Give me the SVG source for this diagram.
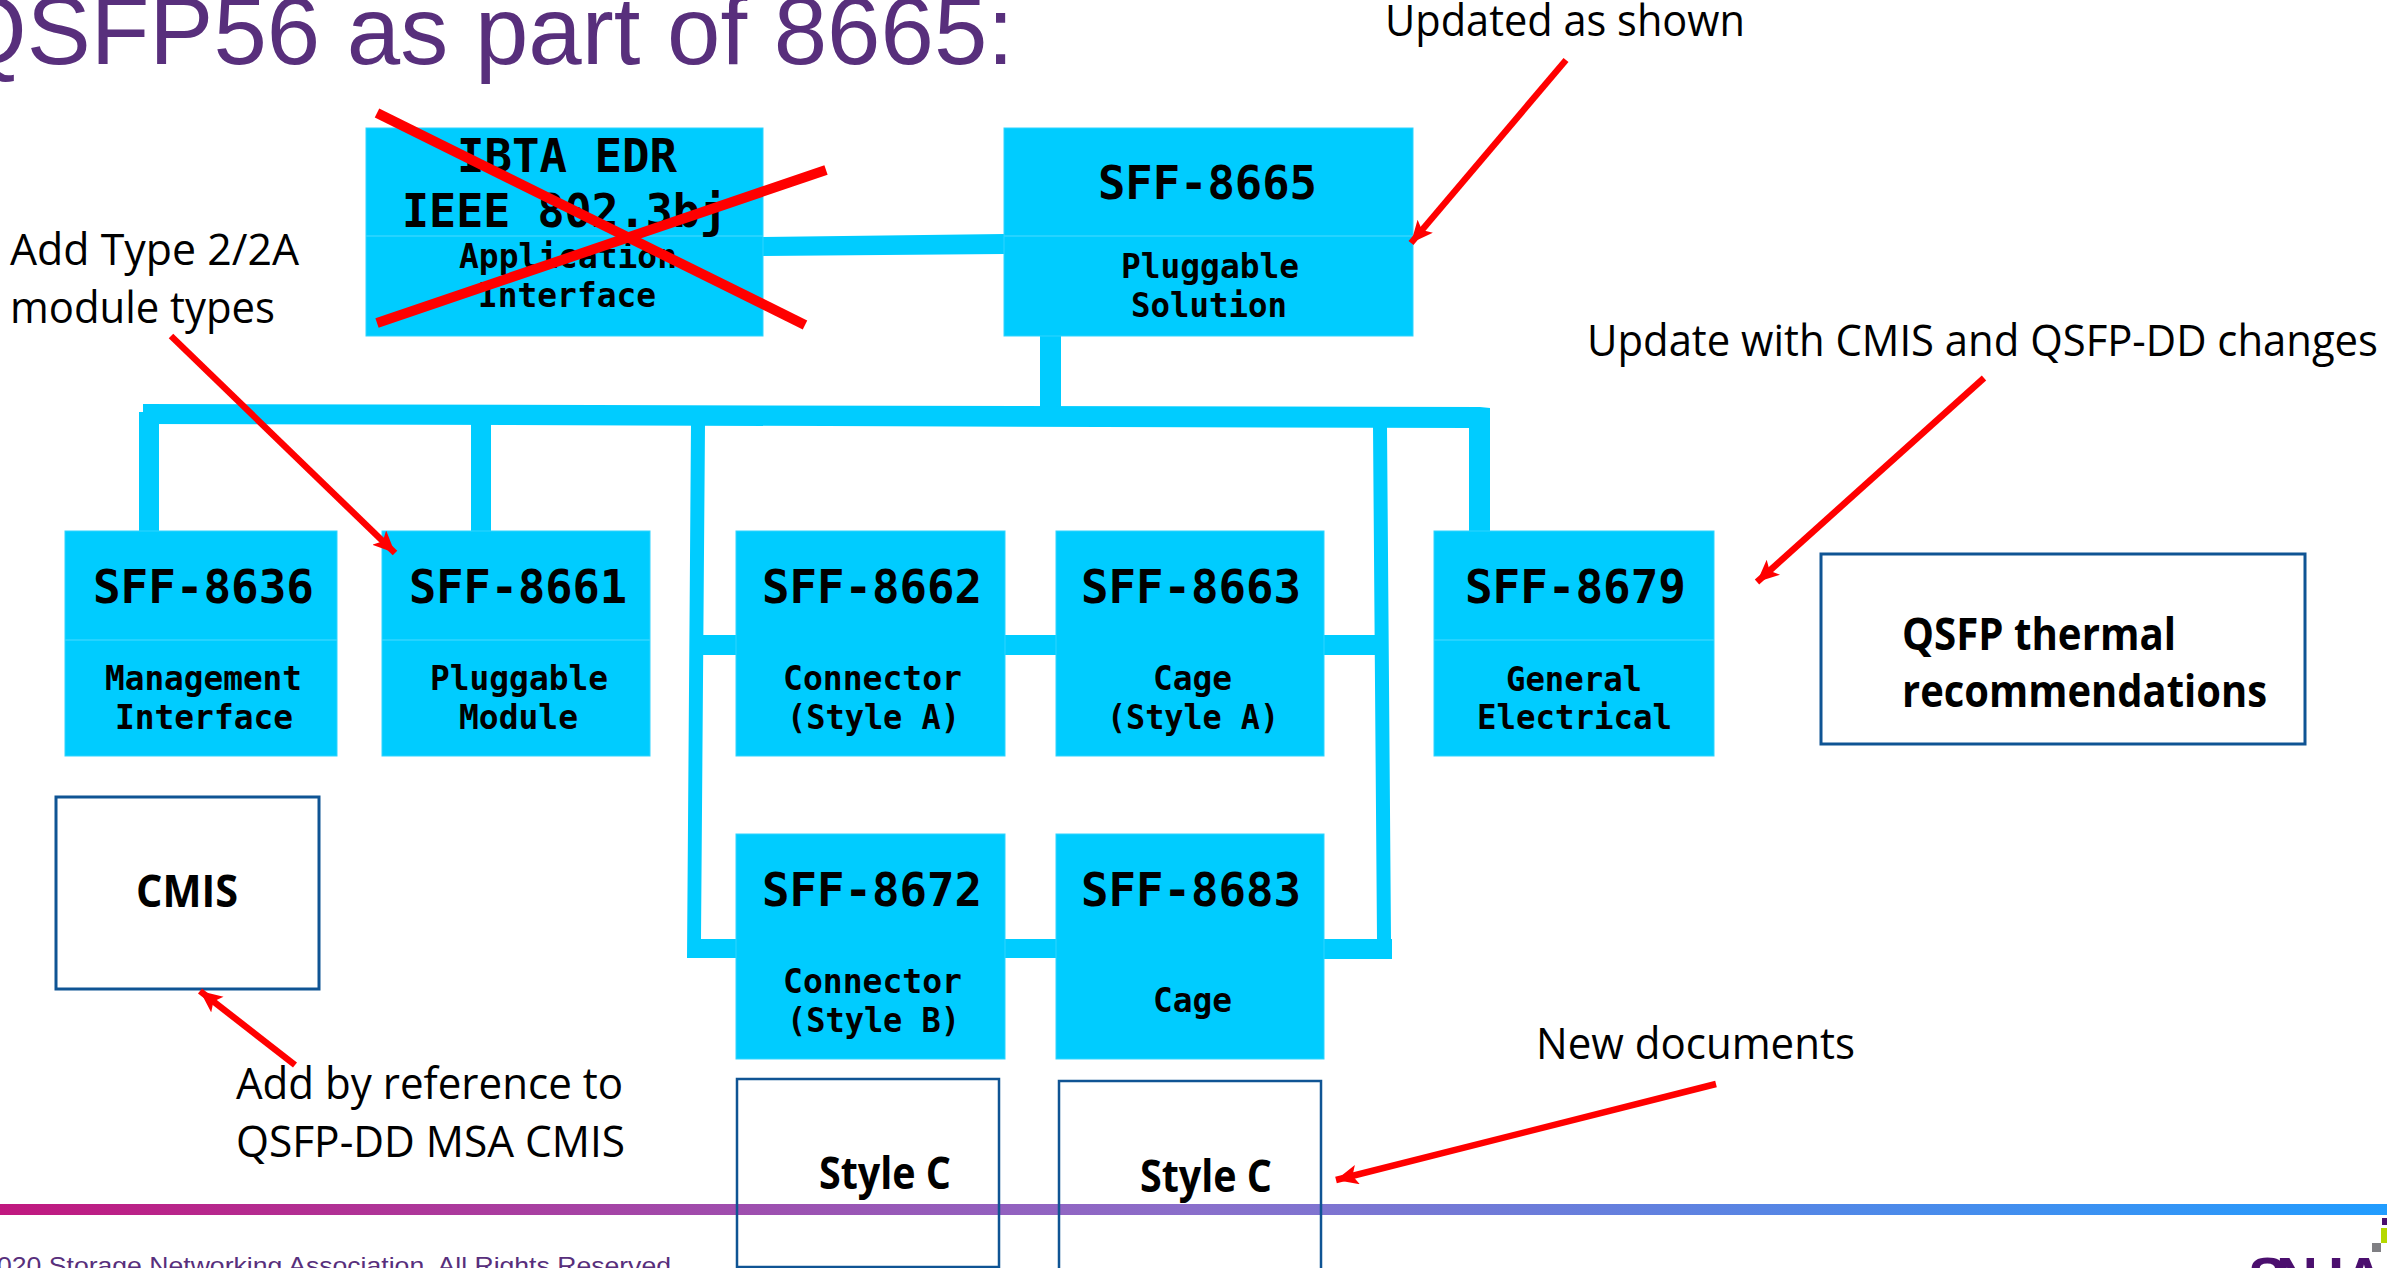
<svg xmlns="http://www.w3.org/2000/svg" width="2387" height="1268" viewBox="0 0 2387 1268">
<defs>
<linearGradient id="bar" x1="0" x2="1" y1="0" y2="0"><stop offset="0" stop-color="#c0187f"/><stop offset="0.5" stop-color="#8a6fcb"/><stop offset="1" stop-color="#219dff"/></linearGradient>
<marker id="ah" markerUnits="userSpaceOnUse" markerWidth="26" markerHeight="22" refX="22" refY="10" orient="auto"><path d="M0 0L22 10L0 20L5 10Z" fill="#ff0000"/></marker>
</defs>
<style>
text{fill:#000}
.b{fill:#00ccff;stroke:#2fd4ff;stroke-width:1}
.d{stroke:#33d6ff;stroke-width:1.5}
.o{fill:#fff;stroke:#0f5494;stroke-width:3}
.m{font-family:"DejaVu Sans Mono",monospace;font-weight:700;font-size:47px}
.s{font-family:"DejaVu Sans Mono",monospace;font-weight:700;font-size:33px}
.n{font-family:"Open Sans","Noto Sans",sans-serif;font-size:44px}
.k{font-family:"Open Sans","Noto Sans",sans-serif;font-size:44px;font-weight:700}
.a{stroke:#ff0000;stroke-width:6.5;fill:none;marker-end:url(#ah)}
.x{stroke:#ff0000;stroke-width:10;fill:none}
.c{fill:#00ccff}
</style>
<rect width="2387" height="1268" fill="#fff"/>
<text id="title" x="-48" y="64" font-family="Liberation Sans, Arial, sans-serif" font-size="96" style="fill:#582f7c">QSFP56 as part of 8665:</text>
<g id="connectors">
<path class="c" d="M763 237L1004 234L1004 254L763 256Z"/>
<path class="c" d="M1040 336H1061V407H1040Z"/>
<path class="c" d="M143 404L1480 407L1490 408V531H1469V428L139 424L139 412L143 412Z"/>
<path class="c" d="M139 420H159V531H139Z"/>
<path class="c" d="M471 420H491V531H471Z"/>
<path class="c" d="M691 424H705L701 939H736V958H687Z"/>
<path class="c" d="M1373 426H1387L1391 939H1392V959H1324V939H1377Z"/>
<path class="c" d="M700 635H1378V655H700Z"/>
<path class="c" d="M1000 939H1060V958H1000Z"/>
</g>
<g id="n-ibta"><rect class="b" x="366" y="128" width="397" height="208"/><line class="d" x1="366" y1="236" x2="763" y2="236"/>
<text class="m" x="457" y="172" textLength="220" lengthAdjust="spacingAndGlyphs">IBTA EDR</text><text class="m" x="402" y="227" textLength="325" lengthAdjust="spacingAndGlyphs">IEEE 802.3bj</text>
<text class="s" x="459" y="268" textLength="218" lengthAdjust="spacingAndGlyphs">Application</text><text class="s" x="478" y="307" textLength="178" lengthAdjust="spacingAndGlyphs">Interface</text></g>
<g id="n-8665"><rect class="b" x="1004" y="128" width="409" height="208"/><line class="d" x1="1004" y1="236" x2="1413" y2="236"/>
<text class="m" x="1098" y="199" textLength="219" lengthAdjust="spacingAndGlyphs">SFF-8665</text><text class="s" x="1121" y="278" textLength="178" lengthAdjust="spacingAndGlyphs">Pluggable</text><text class="s" x="1131" y="317" textLength="156" lengthAdjust="spacingAndGlyphs">Solution</text></g>
<g id="n-8636"><rect class="b" x="65" y="531" width="272" height="225"/><line class="d" x1="65" y1="640" x2="337" y2="640"/>
<text class="m" x="93" y="603" textLength="221" lengthAdjust="spacingAndGlyphs">SFF-8636</text><text class="s" x="105" y="690" textLength="197" lengthAdjust="spacingAndGlyphs">Management</text><text class="s" x="115" y="729" textLength="178" lengthAdjust="spacingAndGlyphs">Interface</text></g>
<g id="n-8661"><rect class="b" x="382" y="531" width="268" height="225"/><line class="d" x1="382" y1="640" x2="650" y2="640"/>
<text class="m" x="409" y="603" textLength="218" lengthAdjust="spacingAndGlyphs">SFF-8661</text><text class="s" x="430" y="690" textLength="178" lengthAdjust="spacingAndGlyphs">Pluggable</text><text class="s" x="459" y="729" textLength="119" lengthAdjust="spacingAndGlyphs">Module</text></g>
<g id="n-8662"><rect class="b" x="736" y="531" width="269" height="225"/>
<text class="m" x="762" y="603" textLength="220" lengthAdjust="spacingAndGlyphs">SFF-8662</text><text class="s" x="783" y="690" textLength="179" lengthAdjust="spacingAndGlyphs">Connector</text><text class="s" x="787" y="729" textLength="173" lengthAdjust="spacingAndGlyphs">(Style A)</text></g>
<g id="n-8663"><rect class="b" x="1056" y="531" width="268" height="225"/>
<text class="m" x="1081" y="603" textLength="220" lengthAdjust="spacingAndGlyphs">SFF-8663</text><text class="s" x="1153" y="690" textLength="79" lengthAdjust="spacingAndGlyphs">Cage</text><text class="s" x="1107" y="729" textLength="172" lengthAdjust="spacingAndGlyphs">(Style A)</text></g>
<g id="n-8679"><rect class="b" x="1434" y="531" width="280" height="225"/><line class="d" x1="1434" y1="640" x2="1714" y2="640"/>
<text class="m" x="1465" y="603" textLength="221" lengthAdjust="spacingAndGlyphs">SFF-8679</text><text class="s" x="1506" y="691" textLength="136" lengthAdjust="spacingAndGlyphs">General</text><text class="s" x="1477" y="729" textLength="195" lengthAdjust="spacingAndGlyphs">Electrical</text></g>
<g id="n-8672"><rect class="b" x="736" y="834" width="269" height="225"/>
<text class="m" x="762" y="906" textLength="220" lengthAdjust="spacingAndGlyphs">SFF-8672</text><text class="s" x="783" y="993" textLength="179" lengthAdjust="spacingAndGlyphs">Connector</text><text class="s" x="787" y="1032" textLength="173" lengthAdjust="spacingAndGlyphs">(Style B)</text></g>
<g id="n-8683"><rect class="b" x="1056" y="834" width="268" height="225"/>
<text class="m" x="1081" y="906" textLength="220" lengthAdjust="spacingAndGlyphs">SFF-8683</text><text class="s" x="1153" y="1012" textLength="79" lengthAdjust="spacingAndGlyphs">Cage</text></g>
<rect id="footer-bar" x="0" y="1204" width="2387" height="11" fill="url(#bar)"/>
<g id="n-cmis"><rect class="o" x="56" y="797" width="263" height="192"/><text class="k" x="136" y="907" textLength="102" lengthAdjust="spacingAndGlyphs">CMIS</text></g>
<g id="n-thermal"><rect class="o" x="1821" y="554" width="484" height="190"/><text class="k" x="1902" y="650" textLength="274" lengthAdjust="spacingAndGlyphs">QSFP thermal</text><text class="k" x="1902" y="707" textLength="365" lengthAdjust="spacingAndGlyphs">recommendations</text></g>
<g id="n-stylec1"><rect x="737" y="1079" width="262" height="188" fill="none" stroke="#0f5494" stroke-width="2.5"/><text class="k" x="819" y="1189" textLength="132" lengthAdjust="spacingAndGlyphs">Style C</text></g>
<g id="n-stylec2"><rect x="1059" y="1081" width="262" height="200" fill="none" stroke="#0f5494" stroke-width="2.5"/><text class="k" x="1140" y="1192" textLength="132" lengthAdjust="spacingAndGlyphs">Style C</text></g>
<g id="annotations">
<text class="n" x="1385" y="36" textLength="360" lengthAdjust="spacingAndGlyphs">Updated as shown</text>
<text class="n" x="1587" y="356" textLength="791" lengthAdjust="spacingAndGlyphs">Update with CMIS and QSFP-DD changes</text>
<text class="n" x="10" y="265" textLength="289" lengthAdjust="spacingAndGlyphs">Add Type 2/2A</text>
<text class="n" x="10" y="323" textLength="265" lengthAdjust="spacingAndGlyphs">module types</text>
<text class="n" x="236" y="1099" textLength="387" lengthAdjust="spacingAndGlyphs">Add by reference to</text>
<text class="n" x="236" y="1157" textLength="389" lengthAdjust="spacingAndGlyphs">QSFP-DD MSA CMIS</text>
<text class="n" x="1536" y="1059" textLength="319" lengthAdjust="spacingAndGlyphs">New documents</text>
</g>
<g id="arrows">
<line class="a" x1="1566" y1="60" x2="1411" y2="243"/>
<line class="a" x1="1984" y1="378" x2="1757" y2="582"/>
<line class="a" x1="171" y1="336" x2="395" y2="553"/>
<line class="a" x1="295" y1="1065" x2="200" y2="991"/>
<line class="a" x1="1716" y1="1084" x2="1336" y2="1180"/>
</g>
<g id="cross">
<line class="x" x1="377" y1="113" x2="805" y2="325"/>
<line class="x" x1="826" y1="170" x2="377" y2="323"/>
</g>
<text id="copyright" x="-3" y="1274" font-family="Liberation Sans, Arial, sans-serif" font-size="24" textLength="674" lengthAdjust="spacingAndGlyphs" style="fill:#582f7c">020 Storage Networking Association. All Rights Reserved</text>
<g id="logo">
<rect x="2372" y="1243" width="9" height="9" fill="#7f7f83"/><rect x="2381" y="1228" width="6" height="15" fill="#b5d800"/><rect x="2382" y="1218" width="5" height="7" fill="#4b0f6e"/>
<text x="2248 2276 2328 2343" y="1298" font-family="Liberation Sans, Arial, sans-serif" font-weight="700" font-size="58" style="fill:#4b0f6e">SNIA</text>
</g>
</svg>
